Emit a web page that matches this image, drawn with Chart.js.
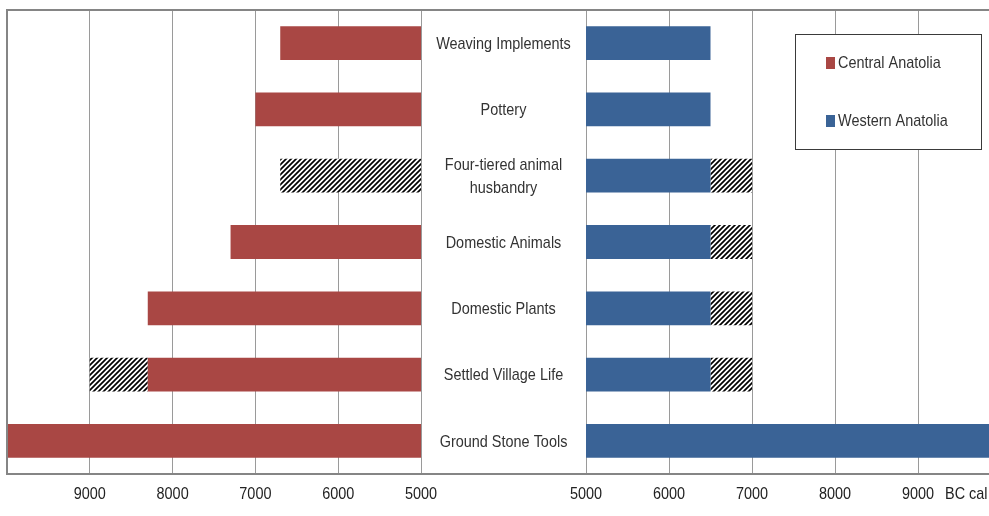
<!DOCTYPE html>
<html>
<head>
<meta charset="utf-8">
<script src="https://cdn.jsdelivr.net/npm/chart.js@4.4.1/dist/chart.umd.min.js"></script>
<style>
  html, body { margin: 0; padding: 0; background: #fff; overflow: hidden; }
  #wrap { position: absolute; left: 0; top: 0; width: 1010px; height: 516px; }
</style>
</head>
<body>
<div id="wrap"><canvas id="chart" width="1010" height="516"></canvas></div>
<script>
// Innovations in Neolithic Anatolia, BC cal dates (5000 = baseline)
const categories = [
  'Weaving Implements',
  'Pottery',
  ['Four-tiered animal', 'husbandry'],
  'Domestic Animals',
  'Domestic Plants',
  'Settled Village Life',
  'Ground Stone Tools'
];
// earliest secure date per innovation (null = none)
const centralSecure = [6700, 7000, null, 7300, 8300, 8300, 10000];
const westernSecure = [6500, 6500, 6500, 6500, 6500, 6500, 10000];
// earliest possible (uncertain) date per innovation (null = none)
const centralPossible = [null, null, 6700, null, null, 9000, null];
const westernPossible = [null, null, 7000, 7000, 7000, 7000, null];
const tickValues = [5000, 6000, 7000, 8000, 9000, 10000];

const BASE = 5000;
const RED = '#A94744';
const BLUE = '#3A6396';
const FONT = "'Liberation Sans', Arial, sans-serif";
const SQUEEZE = 0.85;   // narrow lettering

Chart.defaults.font.family = FONT;
Chart.defaults.font.size = 17;
Chart.defaults.color = '#222';

// diagonal hatch used for uncertain spans
function makeHatch() {
  const s = 5;
  const c = document.createElement('canvas');
  c.width = s; c.height = s;
  const g = c.getContext('2d');
  g.fillStyle = '#fff';
  g.fillRect(0, 0, s, s);
  g.strokeStyle = '#000';
  g.lineWidth = 1.7;
  g.beginPath();
  g.moveTo(-1, s + 1); g.lineTo(s + 1, -1);
  g.moveTo(-1, 1); g.lineTo(1, -1);
  g.moveTo(s - 1, s + 1); g.lineTo(s + 1, s - 1);
  g.stroke();
  return g.createPattern(c, 'repeat');
}
const hatch = makeHatch();

const spans = (secure) => secure.map(v => v == null ? null : [BASE, v]);
const uncertain = (secure, possible) =>
  possible.map((v, i) => v == null ? null : [secure[i] == null ? BASE : secure[i], v]);

function fixAxis(s) { s.height = 42; s.paddingLeft = 0; s.paddingRight = 0; }

const xCommon = {
  type: 'linear',
  position: 'bottom',
  stack: 'time',
  min: 5000,
  max: 10000,
  afterFit: fixAxis,
  afterBuildTicks: (s) => { s.ticks = tickValues.map(v => ({ value: v })); },
  grid: { color: '#9a9a9a', lineWidth: 1, drawTicks: false },
  border: { display: false },
  ticks: { display: false }
};

// condensed text helper
function narrowText(ctx, t, x, y) {
  ctx.save();
  ctx.translate(x, y);
  ctx.scale(SQUEEZE, 1);
  ctx.fillText(t, 0, 0);
  ctx.restore();
}

const frameAndText = {
  id: 'frameAndText',
  afterDatasetsDraw(chart) {
    const { ctx, chartArea: a, scales } = chart;
    ctx.save();
    // plot frame
    ctx.strokeStyle = '#858585';
    ctx.lineWidth = 2;
    ctx.strokeRect(a.left, a.top, a.right - a.left, a.bottom - a.top);

    ctx.font = '17px ' + FONT;
    ctx.textBaseline = 'middle';

    // category labels in the central gap
    const mid = (scales.xM.left + scales.xM.right) / 2;
    ctx.fillStyle = '#333';
    ctx.textAlign = 'center';
    categories.forEach((c, i) => {
      const y = scales.y.getPixelForValue(i) + 1;
      const lines = Array.isArray(c) ? c : [c];
      const lh = 22.5;
      lines.forEach((t, k) => narrowText(ctx, t, mid, y + (k - (lines.length - 1) / 2) * lh));
    });

    // tick labels for both time axes (10000 sits on the frame edge, left unlabelled)
    ctx.fillStyle = '#222';
    ['xL', 'xR'].forEach(id => {
      const s = scales[id];
      s.ticks.forEach(t => {
        if (t.value === 10000) return;
        narrowText(ctx, String(t.value), s.getPixelForValue(t.value), 494);
      });
    });

    // axis unit
    ctx.textAlign = 'left';
    narrowText(ctx, 'BC cal', 945, 494);

    // legend
    const lx = 795.5, ly = 34.5, lw = 186, lhgt = 115;
    ctx.fillStyle = '#fff';
    ctx.fillRect(lx, ly, lw, lhgt);
    ctx.strokeStyle = '#3a3a3a';
    ctx.lineWidth = 1;
    ctx.strokeRect(lx, ly, lw, lhgt);
    const items = [['Central Anatolia', RED, 63], ['Western Anatolia', BLUE, 121]];
    items.forEach(([t, col, y]) => {
      ctx.fillStyle = col;
      ctx.fillRect(826, y - 6, 9, 12);
      ctx.fillStyle = '#333';
      narrowText(ctx, t, 838, y);
    });
    ctx.restore();
  }
};

new Chart(document.getElementById('chart'), {
  type: 'bar',
  data: {
    labels: categories,
    datasets: [
      { label: 'Central Anatolia', data: spans(centralSecure), xAxisID: 'xL', backgroundColor: RED, grouped: false },
      { label: 'Central Anatolia (uncertain)', data: uncertain(centralSecure, centralPossible), xAxisID: 'xL', backgroundColor: hatch, grouped: false },
      { label: 'Western Anatolia', data: spans(westernSecure), xAxisID: 'xR', backgroundColor: BLUE, grouped: false },
      { label: 'Western Anatolia (uncertain)', data: uncertain(westernSecure, westernPossible), xAxisID: 'xR', backgroundColor: hatch, grouped: false }
    ]
  },
  options: {
    indexAxis: 'y',
    responsive: false,
    animation: false,
    layout: { padding: { left: 7, top: 10, right: 9, bottom: 0 } },
    categoryPercentage: 1,
    barPercentage: 0.51,
    plugins: { legend: { display: false }, tooltip: { enabled: false } },
    scales: {
      xL: Object.assign({}, xCommon, { reverse: true, stackWeight: 414 }),
      xM: {
        type: 'linear', position: 'bottom', stack: 'time', stackWeight: 165,
        min: 0, max: 1, afterFit: fixAxis,
        grid: { display: false, drawTicks: false }, border: { display: false },
        ticks: { display: false }
      },
      xR: Object.assign({}, xCommon, { stackWeight: 415 }),
      y: { type: 'category', display: false }
    }
  },
  plugins: [frameAndText]
});
</script>
</body>
</html>
